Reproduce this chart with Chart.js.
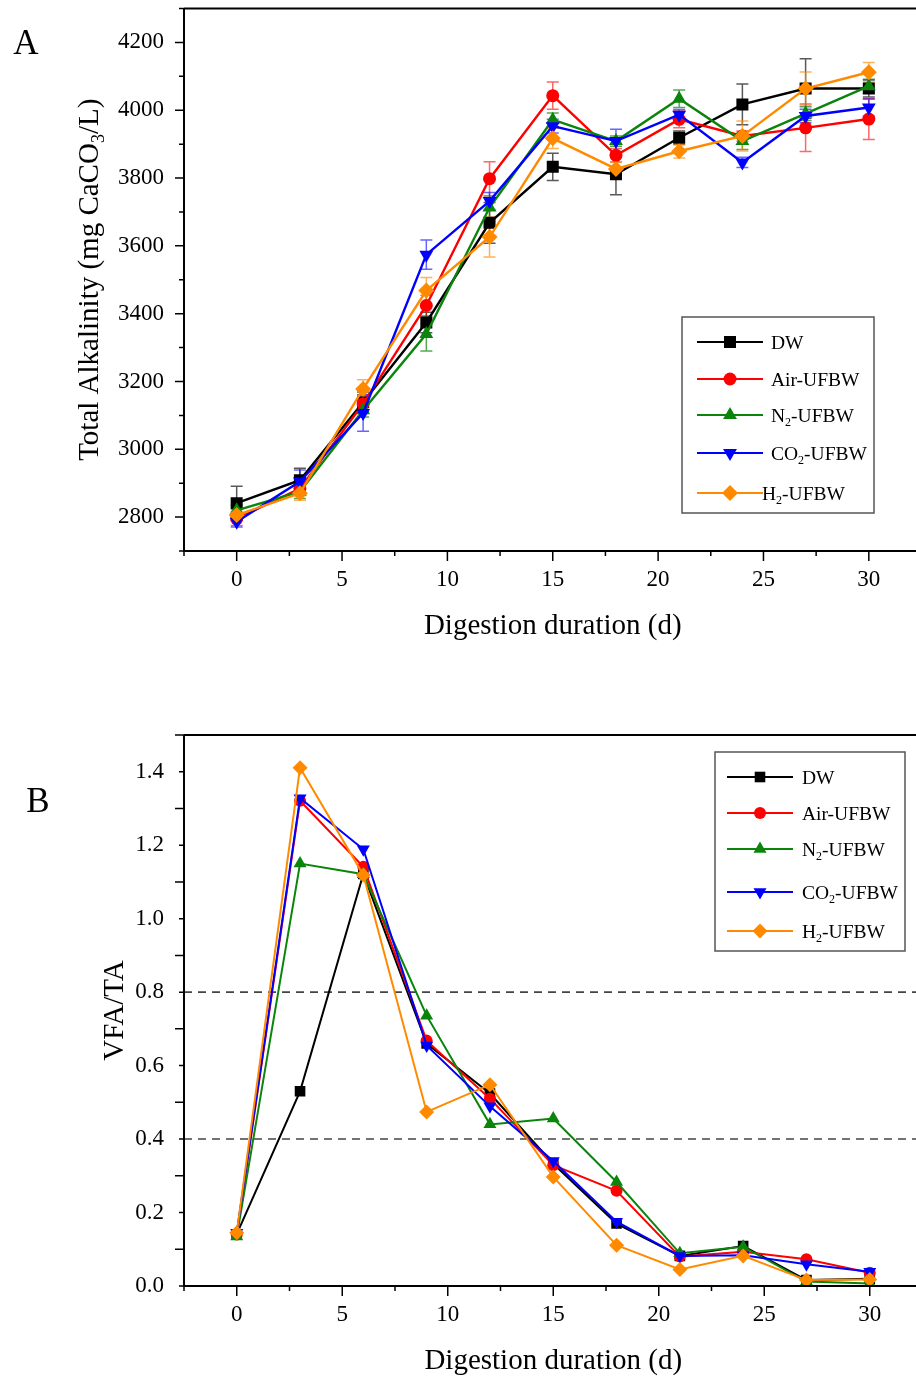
<!DOCTYPE html>
<html lang="en">
<head>
<meta charset="UTF-8">
<title>Total Alkalinity and VFA/TA</title>
<script src="https://cdn.jsdelivr.net/npm/chart.js"></script>
<style>
    html, body {
        margin: 0;
        padding: 0;
        background: #fff;
        overflow: hidden;
    }
    body {
        width: 916px;
        height: 1380px;
        position: relative;
    }
    .panel {
        position: absolute;
        left: 0;
        width: 930px;
    }
    #panelA { top: 0; height: 680px; }
    #panelB { top: 680px; height: 700px; }
</style>
</head>
<body>
<div class="panel" id="panelA"><canvas id="chartA"></canvas></div>
<div class="panel" id="panelB"><canvas id="chartB"></canvas></div>

<script>
// data
const days = [0, 3, 6, 9, 12, 15, 18, 21, 24, 27, 30];

// legend labels, split as [text, subscript, text]
const labelDW = ['DW', '', ''];
const labelAir = ['Air-UFBW', '', ''];
const labelN2 = ['N', '2', '-UFBW'];
const labelCO2 = ['CO', '2', '-UFBW'];
const labelH2 = ['H', '2', '-UFBW'];

// A: total alkalinity (mg CaCO3/L)
const taDW  = [2841, 2909, 3139, 3374, 3668, 3833, 3811, 3919, 4017, 4064, 4064];
const taAir = [2795, 2884, 3134, 3424, 3798, 4043, 3867, 3973, 3924, 3948, 3974];
const taN2  = [2820, 2875, 3115, 3340, 3713, 3972, 3909, 4034, 3909, 3990, 4071];
const taCO2 = [2786, 2905, 3107, 3574, 3732, 3953, 3909, 3987, 3846, 3983, 4008];
const taH2  = [2806, 2870, 3178, 3468, 3626, 3917, 3827, 3879, 3924, 4064, 4112];

// A: error bars (+/-)
const errDW  = [50, 35, 30, 30, 60, 40, 60, 20, 60, 88, 25];
const errAir = [20, 20, 25, 30, 50, 40, 20, 25, 15, 70, 60];
const errN2  = [15, 20, 20, 50, 30, 20, 15, 26, 25, 20, 20];
const errCO2 = [15, 34, 54, 43, 25, 20, 35, 15, 15, 20, 25];
const errH2  = [15, 20, 27, 39, 59, 30, 20, 20, 44, 49, 29];

// B: VFA/TA ratio
const rDW  = [0.141, 0.530, 1.122, 0.660, 0.524, 0.333, 0.170, 0.082, 0.109, 0.016, 0.020];
const rAir = [0.140, 1.321, 1.141, 0.668, 0.510, 0.329, 0.259, 0.080, 0.093, 0.073, 0.036];
const rN2  = [0.135, 1.150, 1.121, 0.736, 0.440, 0.456, 0.283, 0.089, 0.107, 0.012, 0.007];
const rCO2 = [0.145, 1.328, 1.189, 0.655, 0.489, 0.340, 0.175, 0.082, 0.084, 0.059, 0.039];
const rH2  = [0.145, 1.411, 1.119, 0.474, 0.548, 0.297, 0.111, 0.045, 0.082, 0.016, 0.018];

// tick labels
const xTicks = [0, 5, 10, 15, 20, 25, 30];
const yTicksA = [2800, 3000, 3200, 3400, 3600, 3800, 4000, 4200];
const yTicksB = [0.0, 0.2, 0.4, 0.6, 0.8, 1.0, 1.2, 1.4];
const refLinesB = [0.8, 0.4];

const FONT = "'Liberation Serif', 'Times New Roman', serif";

const styles = [
    { color: '#000000', err: 'rgba(0,0,0,0.65)',      point: 'rect',     rot: 0,   rA: 8.5, rB: 7.5 },
    { color: '#ff0000', err: 'rgba(255,0,0,0.6)',     point: 'circle',   rot: 0,   rA: 6.5, rB: 6 },
    { color: '#0a840a', err: 'rgba(10,132,10,0.7)',   point: 'triangle', rot: 0,   rA: 8,   rB: 7.5 },
    { color: '#0000ff', err: 'rgba(0,0,255,0.6)',     point: 'triangle', rot: 180, rA: 8,   rB: 7.5 },
    { color: '#ff8a00', err: 'rgba(255,138,0,0.65)',  point: 'rectRot',  rot: 0,   rA: 8,   rB: 7.5 }
];
const labels = [labelDW, labelAir, labelN2, labelCO2, labelH2];

function makeDatasets(series, panel, lineW) {
    return series.map((vals, i) => ({
        label: labels[i].join(''),
        data: vals.map((v, j) => ({ x: days[j], y: v })),
        borderColor: styles[i].color,
        backgroundColor: styles[i].color,
        borderWidth: lineW,
        pointStyle: styles[i].point,
        pointRotation: styles[i].rot,
        pointRadius: panel === 'A' ? styles[i].rA : styles[i].rB,
        pointBorderWidth: 0,
        tension: 0,
        order: 5 - i
    }));
}

// text with a subscript part
function richParts(ctx, parts, size) {
    const big = size + 'px ' + FONT;
    const small = Math.round(size * 0.62) + 'px ' + FONT;
    let w = 0;
    const out = parts.map(p => {
        ctx.font = p.sub ? small : big;
        const pw = ctx.measureText(p.t).width;
        w += pw;
        return { t: p.t, sub: p.sub, w: pw, font: p.sub ? small : big };
    });
    return { parts: out, width: w };
}

function drawRich(ctx, parts, x, y, size, align) {
    const r = richParts(ctx, parts, size);
    let cx = align === 'center' ? x - r.width / 2 : x;
    ctx.textBaseline = 'middle';
    ctx.textAlign = 'left';
    r.parts.forEach(p => {
        ctx.font = p.font;
        ctx.fillText(p.t, cx, p.sub ? y + size * 0.32 : y);
        cx += p.w;
    });
}

function legendParts(lbl) {
    const out = [{ t: lbl[0], sub: false }];
    if (lbl[1]) out.push({ t: lbl[1], sub: true });
    if (lbl[2]) out.push({ t: lbl[2], sub: false });
    return out;
}

function decoPlugin(o) {
    return {
        id: 'deco' + o.panel,
        beforeDatasetsDraw(chart) {
            const { ctx, chartArea: a, scales: { x, y } } = chart;
            ctx.save();
            // dashed reference lines
            (o.refLines || []).forEach(v => {
                const py = y.getPixelForValue(v);
                ctx.strokeStyle = '#444';
                ctx.lineWidth = 1.6;
                ctx.setLineDash([8, 6]);
                ctx.beginPath();
                ctx.moveTo(a.left, py);
                ctx.lineTo(a.right, py);
                ctx.stroke();
            });
            ctx.setLineDash([]);
            // error bars
            (o.errors || []).forEach((errs, i) => {
                const vals = o.series[i];
                ctx.strokeStyle = styles[i].err;
                ctx.lineWidth = 1.5;
                errs.forEach((e, j) => {
                    const px = x.getPixelForValue(days[j]);
                    const t = y.getPixelForValue(vals[j] + e);
                    const b = y.getPixelForValue(vals[j] - e);
                    ctx.beginPath();
                    ctx.moveTo(px, t); ctx.lineTo(px, b);
                    ctx.moveTo(px - 6, t); ctx.lineTo(px + 6, t);
                    ctx.moveTo(px - 6, b); ctx.lineTo(px + 6, b);
                    ctx.stroke();
                });
            });
            ctx.restore();
        },
        afterDraw(chart) {
            const { ctx, chartArea: a, scales: { x, y } } = chart;
            ctx.save();
            ctx.strokeStyle = '#000';
            ctx.lineWidth = 2;
            // axes frame (left, bottom, top)
            ctx.beginPath();
            ctx.moveTo(a.left, a.top); ctx.lineTo(a.right, a.top);
            ctx.moveTo(a.left, a.top); ctx.lineTo(a.left, a.bottom);
            ctx.lineTo(a.right, a.bottom);
            ctx.stroke();
            // x ticks, major every 5 and minor every 2.5
            ctx.lineWidth = 1.5;
            ctx.beginPath();
            for (let v = x.min; v <= x.max + 0.01; v += 2.5) {
                const px = x.getPixelForValue(v);
                const len = Math.abs(v % 5) < 0.01 ? 10 : 5;
                ctx.moveTo(px, a.bottom); ctx.lineTo(px, a.bottom + len);
            }
            // y ticks, major at labels, minor between
            let k = 0;
            for (let v = y.min; v <= y.max + o.yMinor / 100; v += o.yMinor, k++) {
                const py = y.getPixelForValue(v);
                const len = (k % 2 === 1) ? 9 : 5;
                ctx.moveTo(a.left, py); ctx.lineTo(a.left - len, py);
            }
            ctx.stroke();
            // axis titles
            ctx.fillStyle = '#000';
            drawRich(ctx, [{ t: 'Digestion duration (d)', sub: false }], (a.left + a.right) / 2, o.xTitleY, 29, 'center');
            ctx.save();
            ctx.translate(o.yTitleX, (a.top + a.bottom) / 2);
            ctx.rotate(-Math.PI / 2);
            drawRich(ctx, o.yTitle, 0, 0, 29, 'center');
            ctx.restore();
            // panel letter
            ctx.font = '35px ' + FONT;
            ctx.textAlign = 'center';
            ctx.textBaseline = 'middle';
            ctx.fillText(o.letter, o.letterX, o.letterY);
            // legend
            const L = o.legend;
            ctx.strokeStyle = '#555';
            ctx.lineWidth = 1.5;
            ctx.strokeRect(L.x, L.y, L.w, L.h);
            L.rows.forEach((ry, i) => {
                ctx.strokeStyle = styles[i].color;
                ctx.fillStyle = styles[i].color;
                ctx.lineWidth = 2;
                ctx.beginPath();
                ctx.moveTo(L.lineX1, ry); ctx.lineTo(L.lineX2, ry);
                ctx.stroke();
                Chart.helpers.drawPoint(ctx, {
                    pointStyle: styles[i].point,
                    rotation: styles[i].rot,
                    radius: o.panel === 'A' ? styles[i].rA : styles[i].rB,
                    borderWidth: 0
                }, (L.lineX1 + L.lineX2) / 2, ry);
                ctx.fillStyle = '#000';
                drawRich(ctx, legendParts(labels[i]), L.textX[i], ry + 2, 19.5, 'left');
            });
            ctx.restore();
        }
    };
}

function noPad(s) {
    s.paddingTop = 0;
    s.paddingBottom = 0;
    s.paddingLeft = 0;
    s.paddingRight = 0;
}

function makeChart(id, o) {
    const H = o.height;
    return new Chart(document.getElementById(id).getContext('2d'), {
        type: 'line',
        data: { datasets: makeDatasets(o.series, o.panel, o.lineW) },
        options: {
            responsive: true,
            maintainAspectRatio: false,
            animation: false,
            layout: { padding: { top: o.top, right: 6, left: 0, bottom: 0 } },
            plugins: { legend: { display: false }, tooltip: { enabled: false } },
            scales: {
                x: {
                    type: 'linear',
                    min: -2.5,
                    max: 32.5,
                    grid: { display: false, drawTicks: false },
                    border: { display: false },
                    afterBuildTicks: s => { s.ticks = xTicks.map(v => ({ value: v })); },
                    afterFit: s => { s.height = H - o.bottom; noPad(s); },
                    ticks: { color: '#000', padding: 15, font: { family: FONT, size: 23 } }
                },
                y: {
                    min: o.yMin,
                    max: o.yMax,
                    grid: { display: false, drawTicks: false },
                    border: { display: false },
                    afterBuildTicks: s => { s.ticks = o.yTicks.map(v => ({ value: v })); },
                    afterFit: s => { s.width = 184; noPad(s); },
                    ticks: {
                        color: '#000',
                        padding: 20,
                        font: { family: FONT, size: 23 },
                        callback: v => o.fmt(v)
                    }
                }
            }
        },
        plugins: [decoPlugin(o)]
    });
}

makeChart('chartA', {
    panel: 'A', height: 680, top: 8, bottom: 551,
    series: [taDW, taAir, taN2, taCO2, taH2],
    errors: [errDW, errAir, errN2, errCO2, errH2],
    lineW: 2.4,
    yMin: 2700, yMax: 4300, yMinor: 100, yTicks: yTicksA,
    fmt: v => String(v),
    xTitleY: 626, yTitleX: 90,
    yTitle: [{ t: 'Total Alkalinity (mg CaCO', sub: false }, { t: '3', sub: true }, { t: '/L)', sub: false }],
    letter: 'A', letterX: 26, letterY: 45,
    legend: {
        x: 682, y: 317, w: 192, h: 196,
        rows: [342, 379, 415, 453, 493],
        lineX1: 697, lineX2: 763,
        textX: [771, 771, 771, 771, 762]
    }
});

makeChart('chartB', {
    panel: 'B', height: 700, top: 55, bottom: 606,
    series: [rDW, rAir, rN2, rCO2, rH2],
    refLines: refLinesB,
    lineW: 2,
    yMin: 0, yMax: 1.5, yMinor: 0.1, yTicks: yTicksB,
    fmt: v => v.toFixed(1),
    xTitleY: 681, yTitleX: 115,
    yTitle: [{ t: 'VFA/TA', sub: false }],
    letter: 'B', letterX: 38, letterY: 123,
    legend: {
        x: 715, y: 72, w: 190, h: 199,
        rows: [97, 133, 169, 212, 251],
        lineX1: 727, lineX2: 793,
        textX: [802, 802, 802, 802, 802]
    }
});
</script>
</body>
</html>
